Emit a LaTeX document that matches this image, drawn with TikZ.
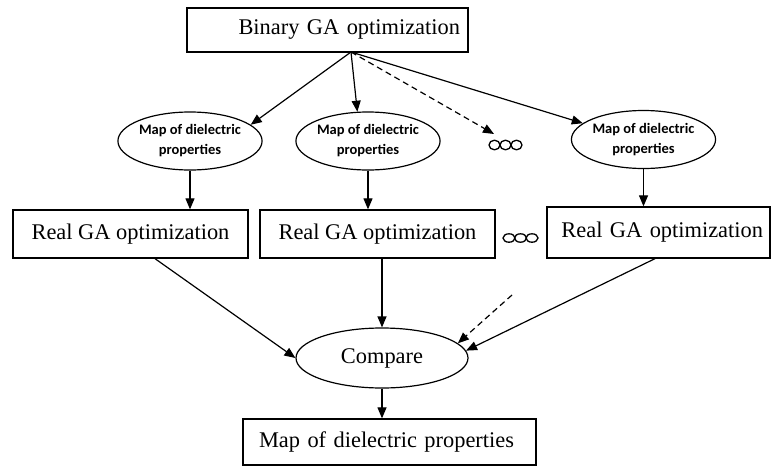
\documentclass[tikz,border=0pt]{standalone}
\usepackage{fontspec}
\setmainfont{Liberation Serif}
\newfontfamily\calib{Carlito}
\usetikzlibrary{shapes.geometric,arrows.meta}

\begin{document}
\begin{tikzpicture}[x=1pt,y=-1pt,
  box/.style={draw, line width=1.3pt, rectangle, inner ysep=0pt,
    minimum height=48pt, font=\fontsize{22.4}{24}\selectfont},
  mapell/.style={draw, ellipse, line width=1.2pt, minimum width=126pt,
    minimum height=58pt, inner sep=0pt, align=center,
    font=\calib\bfseries\fontsize{14.5}{20}\selectfont},
  arr/.style={line width=1.2pt, -{Triangle[length=11pt,width=9pt]}},
  dsh/.style={arr, dash pattern=on 6pt off 4pt},
  dots/.style={line width=1.3pt}
]
\useasboundingbox (0,0) rectangle (772,466);

% top stage
\node[box, minimum height=44pt, inner xsep=8pt, text width=265pt, align=right]
  (bin) at (327.5,30) {Binary GA optimization};

% maps from the binary stage
\node[mapell] (e1) at (190,141) {Map of dielectric\\properties};
\node[mapell] (e2) at (368,141) {Map of dielectric\\properties};
\node[mapell] (e3) at (643.5,139.5) {Map of dielectric\\properties};

% real-coded stages
\node[box, minimum width=235pt] (r1) at (130.5,234) {Real GA optimization};
\node[box, minimum width=235pt] (r2) at (377.5,234) {Real GA optimization};
\node[box, minimum height=51pt, inner xsep=7pt, text width=209pt, align=right]
  (r3) at (658.5,232.5) {Real GA optimization};

% comparison and result
\node[draw, ellipse, line width=1.2pt, minimum width=172pt, minimum height=60pt,
  inner sep=0pt, font=\fontsize{22.4}{24}\selectfont] (cmp) at (382,358) {Compare};
\node[box, minimum height=46pt, inner xsep=16pt, text width=261pt, align=left]
  (fin) at (389.5,442) {Map of dielectric properties};

% fan-out from the binary stage
\coordinate (src) at (351,52);
\coordinate (dt) at (494,134);
\draw[arr] (src) -- (e1.15);
\draw[arr] (src) -- (e2.110);
\draw[dsh] (src) -- (dt);
\draw[arr] (src) -- (e3.165);

% maps into real-coded stages
\draw[arr] (e1.south) -- (e1.south |- r1.north);
\draw[arr] (e2.south) -- (e2.south |- r2.north);
\draw[arr] (e3.south) -- (e3.south |- r3.north);

% into the comparison
\coordinate (ds) at (512,295);
\draw[arr] ([xshift=24.5pt]r1.south) -- (cmp.west);
\draw[arr] (cmp.north |- r2.south) -- (cmp.north);
\draw[arr] ([xshift=-3.5pt]r3.south) -- (cmp.5);
\draw[dsh] (ds) -- (cmp.11);
\draw[arr] (cmp.south) -- (cmp.south |- fin.north);

% ellipsis marks
\foreach \cx in {494.5,505.5,516.5}
  \draw[dots] (\cx,145) ellipse [x radius=5.5, y radius=4.8];
\foreach \cx in {509,520.5,532}
  \draw[dots] (\cx,238) ellipse [x radius=6, y radius=4.2];
\end{tikzpicture}
\end{document}
